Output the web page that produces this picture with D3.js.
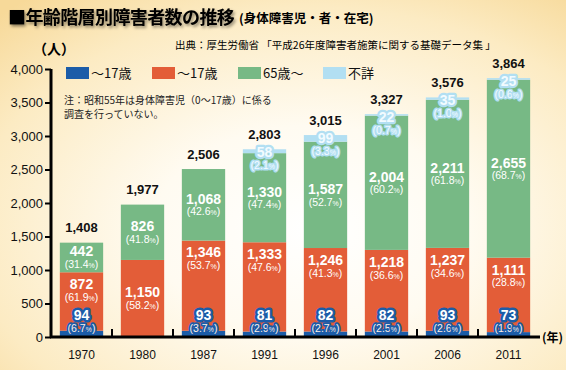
<!DOCTYPE html>
<html>
<head>
<meta charset="utf-8">
<script src="https://cdn.jsdelivr.net/npm/d3@7"></script>
<style>
  body { margin: 0; background: #fff; }
  svg { display: block; }
  text { font-family: "Liberation Sans", Arial, "Noto Sans CJK JP", sans-serif; }
  .jp { font-family: "Noto Sans CJK JP", sans-serif; }
</style>
</head>
<body>
<svg></svg>
<script>
// chart values
var years = ["1970", "1980", "1987", "1991", "1996", "2001", "2006", "2011"];
var child = [94, null, 93, 81, 82, 82, 93, 73];
var adult = [872, 1150, 1346, 1333, 1246, 1218, 1237, 1111];
var elder = [442, 826, 1068, 1330, 1587, 2004, 2211, 2655];
var unknown = [null, null, null, 58, 99, 22, 35, 25];
var totals = [1408, 1977, 2506, 2803, 3015, 3327, 3576, 3864];
var childPct = ["6.7", null, "3.7", "2.9", "2.7", "2.5", "2.6", "1.9"];
var adultPct = ["61.9", "58.2", "53.7", "47.6", "41.3", "36.6", "34.6", "28.8"];
var elderPct = ["31.4", "41.8", "42.6", "47.4", "52.7", "60.2", "61.8", "68.7"];
var unknownPct = [null, null, null, "2.1", "3.3", "0.7", "1.0", "0.6"];
var yTicks = [0, 500, 1000, 1500, 2000, 2500, 3000, 3500, 4000];
var legendLabels = ["～17歳", "～17歳", "65歳～", "不詳"];

var keys = ["child", "adult", "elder", "unknown"];
var colors = {child: "#1b5ca8", adult: "#e35d38", elder: "#77b985", unknown: "#b2dff2"};

var width = 571, height = 376;

var svg = d3.select("svg")
    .attr("width", width)
    .attr("height", height);

var defs = svg.append("defs");

// background glow
var bg = defs.append("radialGradient")
    .attr("id", "bg")
    .attr("cx", "0.55").attr("cy", "0.62").attr("r", "0.8");
bg.append("stop").attr("offset", "0").attr("stop-color", "#ffffff");
bg.append("stop").attr("offset", "0.35").attr("stop-color", "#fffbf1");
bg.append("stop").attr("offset", "0.75").attr("stop-color", "#fcebc3");
bg.append("stop").attr("offset", "1").attr("stop-color", "#f7d999");

var shadow = defs.append("filter").attr("id", "shadow")
    .attr("x", "-10%").attr("y", "-30%").attr("width", "120%").attr("height", "160%");
shadow.append("feDropShadow")
    .attr("dx", 1.5).attr("dy", 2).attr("stdDeviation", 1.8)
    .attr("flood-color", "#000").attr("flood-opacity", 0.45);

svg.append("rect").attr("width", width).attr("height", height).attr("fill", "#fff");
svg.append("rect").attr("x", 0).attr("y", 0).attr("width", 566).attr("height", 370)
    .attr("fill", "url(#bg)");

// titles
svg.append("text").attr("class", "jp")
    .attr("x", 8).attr("y", 24)
    .attr("font-size", 18).attr("font-weight", "bold")
    .attr("letter-spacing", -0.6)
    .attr("filter", "url(#shadow)")
    .text("■年齢階層別障害者数の推移");
svg.append("text").attr("class", "jp")
    .attr("x", 239).attr("y", 23)
    .attr("font-size", 12.5).attr("font-weight", "bold")
    .text("(身体障害児・者・在宅)");
svg.append("text").attr("class", "jp")
    .attr("x", 175).attr("y", 49)
    .attr("font-size", 10.5)
    .text("出典：厚生労働省 「平成26年度障害者施策に関する基礎データ集 」");
svg.append("text").attr("class", "jp")
    .attr("x", 33).attr("y", 54)
    .attr("font-size", 14).attr("font-weight", "bold")
    .text("（人）");

// scales
var x = d3.scaleBand()
    .domain(years)
    .range([51, 539])
    .paddingInner(0.29)
    .paddingOuter(0.145);

var y = d3.scaleLinear()
    .domain([0, 4000])
    .range([337, 69]);

var rows = years.map(function(yr, i) {
    return {year: yr, child: child[i] || 0, adult: adult[i], elder: elder[i], unknown: unknown[i] || 0, i: i};
});

var series = d3.stack().keys(keys)(rows);

// bars
svg.append("g")
    .selectAll("g")
    .data(series)
    .enter()
    .append("g")
    .attr("fill", function(d) { return colors[d.key]; })
    .selectAll("rect")
    .data(function(d) { return d; })
    .enter()
    .append("rect")
    .attr("x", function(d) { return x(d.data.year); })
    .attr("width", x.bandwidth())
    .attr("y", function(d) { return y(d[1]); })
    .attr("height", function(d) { return y(d[0]) - y(d[1]); });

function pctLabel(sel, val) {
    sel.append("tspan").text("(" + val);
    sel.append("tspan").attr("font-size", 7).text("%");
    sel.append("tspan").text(")");
}

var labels = svg.append("g").attr("text-anchor", "middle");

function addLabel(cx, cy, value, pct, opts) {
    var g = labels.append("g");
    var t1 = g.append("text")
        .attr("x", cx).attr("y", cy)
        .attr("dy", "0.35em")
        .attr("font-size", 14).attr("font-weight", "bold")
        .attr("fill", opts.fill || "#fff")
        .text(d3.format(",")(value));
    var t2 = g.append("text")
        .attr("x", cx).attr("y", cy + 13)
        .attr("dy", "0.35em")
        .attr("font-size", 10.5)
        .attr("fill", opts.fill || "#fdeee6");
    pctLabel(t2, pct);
    if (opts.halo) {
        t1.attr("stroke-width", opts.haloWidth || 5);
        t2.attr("stroke-width", (opts.haloWidth || 5) - 1.5);
        g.selectAll("text")
            .attr("stroke", opts.halo)
            .attr("stroke-linejoin", "round")
            .attr("paint-order", "stroke");
    }
}

series.forEach(function(s) {
    s.forEach(function(d) {
        var i = d.data.i;
        var cx = x(d.data.year) + x.bandwidth() / 2;
        var top = y(d[1]), bot = y(d[0]);
        if (s.key === "child" && child[i] != null) {
            addLabel(cx, y(0) - 22, child[i], childPct[i], {halo: colors.child});
        } else if (s.key === "adult") {
            var cy = child[i] == null ? (top + bot) / 2 - 6 : top + 12;
            addLabel(cx, cy, adult[i], adultPct[i], {fill: "#fff"});
        } else if (s.key === "elder") {
            addLabel(cx, (top + bot) / 2 - 6, elder[i], elderPct[i], {fill: "#fff"});
        } else if (s.key === "unknown" && unknown[i] != null) {
            addLabel(cx, top + 3, unknown[i], unknownPct[i], {fill: "#f2fbff", halo: colors.unknown, haloWidth: 4.5});
        }
    });
});

// totals
labels.selectAll(".total")
    .data(rows)
    .enter()
    .append("text")
    .attr("class", "total")
    .attr("x", function(d) { return x(d.year) + x.bandwidth() / 2; })
    .attr("y", function(d) { return y(totals[d.i]) - 15; })
    .attr("dy", "0.35em")
    .attr("font-size", 13).attr("font-weight", "bold")
    .attr("fill", "#111")
    .text(function(d) { return d3.format(",")(totals[d.i]); });

// y axis
var yAxis = svg.append("g")
    .attr("transform", "translate(51,0)")
    .call(d3.axisLeft(y).tickValues(yTicks).tickFormat(d3.format(",")).tickSize(6).tickPadding(2));
yAxis.select(".domain").attr("stroke-width", 3).attr("d", "M0," + y(0) + "V" + y(4000));
yAxis.selectAll(".tick line").attr("stroke-width", 2);
yAxis.selectAll(".tick text")
    .attr("font-size", 13)
    .attr("font-family", "Liberation Sans, Arial, sans-serif")
    .attr("fill", "#111");

// x axis
var xAxis = svg.append("g")
    .attr("transform", "translate(0," + y(0) + ")")
    .call(d3.axisBottom(x).tickSize(0).tickPadding(13));
xAxis.select(".domain").attr("stroke-width", 3).attr("d", "M50,0H540");
xAxis.selectAll(".tick text")
    .attr("font-size", 12)
    .attr("font-family", "Liberation Sans, Arial, sans-serif")
    .attr("fill", "#111");

// separators between year bands
xAxis.selectAll(".sep")
    .data(years.slice(1))
    .enter()
    .append("line")
    .attr("class", "sep")
    .attr("x1", function(d) { return x(d) - x.step() * x.paddingInner() / 2; })
    .attr("x2", function(d) { return x(d) - x.step() * x.paddingInner() / 2; })
    .attr("y1", 0).attr("y2", -8)
    .attr("stroke", "#000").attr("stroke-width", 2);

svg.append("text").attr("class", "jp")
    .attr("x", 542).attr("y", y(0) + 5)
    .attr("font-size", 12).attr("font-weight", "bold")
    .text("(年)");

// legend
var legendX = [66, 152, 238, 323];
var legend = svg.append("g")
    .selectAll("g")
    .data(keys)
    .enter()
    .append("g")
    .attr("transform", function(d, i) { return "translate(" + legendX[i] + ",67)"; });
legend.append("rect")
    .attr("width", 23).attr("height", 12)
    .attr("fill", function(d) { return colors[d]; });
legend.append("text").attr("class", "jp")
    .attr("x", 25).attr("y", 6)
    .attr("dy", "0.35em")
    .attr("font-size", 13)
    .attr("fill", "#111")
    .text(function(d, i) { return legendLabels[i]; });

// note
var note = svg.append("text").attr("class", "jp")
    .attr("font-size", 10).attr("fill", "#222");
note.append("tspan").attr("x", 64).attr("y", 104).text("注：昭和55年は身体障害児（0〜17歳）に係る");
note.append("tspan").attr("x", 64).attr("y", 118).text("調査を行っていない。");
</script>
</body>
</html>
